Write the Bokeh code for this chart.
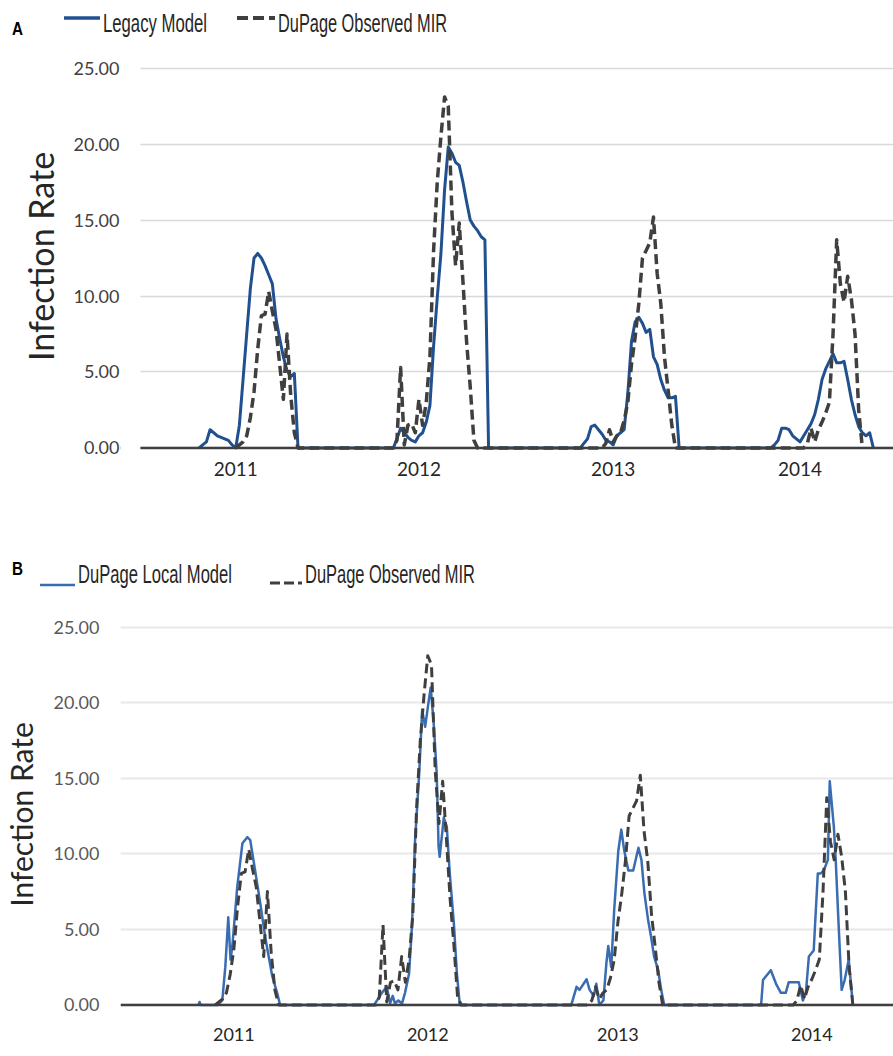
from bokeh.plotting import figure
from bokeh.layouts import column
from bokeh.models import FixedTicker, Span, PrintfTickFormatter, BoxAnnotation, Div
from bokeh.embed import file_html
from bokeh.resources import INLINE

# ---------------- data (week index, value) ----------------
# Panel A – Legacy Model
legacy_weeks_2011 = list(range(16, 44))
legacy_2011 = [0, 0.2, 0.4, 1.2, 1.0, 0.8, 0.7, 0.6, 0.5, 0.2, 0.0, 1.5, 4.5, 7.5, 10.5, 12.5,
               12.8, 12.5, 12.0, 11.4, 10.8, 8.5, 7.2, 6.0, 5.1, 4.7, 4.9, 0]
legacy_weeks_2012 = list(range(69, 96))
legacy_2012 = [0, 0.6, 1.3, 1.0, 0.7, 0.5, 0.4, 0.8, 1.0, 1.7, 2.8, 6.7, 9.9, 12.8, 17.0, 19.8,
               19.4, 18.8, 18.6, 17.5, 16.2, 15.0, 14.6, 14.3, 13.9, 13.7, 0]
legacy_weeks_2013 = list(range(120, 148))
legacy_2013 = [0, 0.3, 0.6, 1.4, 1.5, 1.2, 0.9, 0.5, 0.4, 0.2, 0.8, 1.0, 1.2, 3.6, 7.0, 8.3,
               8.6, 8.2, 7.6, 7.8, 6.0, 5.5, 4.5, 3.8, 3.3, 3.3, 3.4, 0]
legacy_weeks_2014 = list(range(172, 201))
legacy_2014 = [0, 0.2, 0.5, 1.3, 1.3, 1.2, 0.8, 0.6, 0.4, 0.8, 1.2, 1.6, 2.2, 3.2, 4.5, 5.2,
               5.7, 6.2, 5.6, 5.6, 5.7, 4.5, 3.2, 2.2, 1.4, 1.0, 0.8, 1.0, 0]

# DuPage Observed MIR (both panels)
obs_weeks_2011 = list(range(26, 44))
obs_2011 = [0, 0.2, 0.4, 0.8, 2.0, 3.7, 6.5, 8.7, 8.8, 10.3, 9.0, 7.8, 5.5, 3.2, 7.5, 3.5, 1.0, 0]
obs_weeks_2012 = list(range(69, 93))
obs_2012 = [0, 0.5, 5.3, 0.2, 1.5, 1.6, 1.0, 3.2, 1.5, 3.0, 6.0, 13.0, 17.5, 20.5, 23.1, 22.5,
            15.5, 12.0, 14.8, 11.0, 7.0, 4.0, 0.5, 0]
obs_weeks_2013 = list(range(126, 147))
obs_2013 = [0, 0.3, 1.2, 0.4, 0.8, 1.0, 1.8, 3.0, 5.5, 7.3, 9.5, 12.5, 13.0, 13.5, 15.2, 11.5,
            9.5, 6.0, 3.8, 1.5, 0]
obs_weeks_2014 = list(range(180, 198))
obs_2014 = [0, 0, 0.3, 1.3, 0.4, 1.2, 1.7, 2.3, 3.0, 7.5, 13.7, 10.8, 9.6, 11.3, 9.8, 7.5, 2.5, 0]

# Panel B – DuPage Local Model
local_weeks_2011 = [21.5, 21.8, 22.1, 26.6, 27.9, 28.7, 29.5, 30.1, 30.6, 31.9, 33.3, 34.6, 35.4,
                    36.7, 38.1, 39.4, 41.3, 42.6, 43.4]
local_2011 = [0, 0.2, 0, 0, 0.3, 2.5, 5.8, 3.0, 3.9, 7.8, 10.7, 11.1, 10.9, 8.9, 6.7, 4.5, 1.9, 0.8, 0]
local_weeks_2012 = [68.6, 70.7, 72.0, 72.9, 73.6, 74.2, 75.1, 76.1, 76.9, 78.0, 78.8, 79.6, 80.7,
                    81.5, 82.3, 83.3, 83.8, 84.6, 85.4, 85.9, 86.2, 87.3, 88.1, 88.9, 90.0, 90.8, 91.6]
local_2012 = [0, 0.8, 1.2, 0.1, 0.6, 0.1, 0.3, 0.1, 0.8, 2.1, 5.4, 10.9, 15.3, 19.5, 18.4, 20.2,
              21.0, 18.6, 15.3, 10.5, 9.8, 12.4, 11.8, 8.7, 5.4, 2.1, 0]
local_weeks_2013 = [121.5, 122.9, 123.7, 124.8, 125.6, 126.4, 127.5, 128.2, 129.0, 130.1, 130.9,
                    131.4, 132.2, 133.0, 134.1, 134.9, 135.7, 136.8, 138.1, 139.5, 140.3, 141.1,
                    142.1, 142.9, 143.7, 144.8, 145.6, 146.4]
local_2013 = [0, 1.2, 1.0, 1.4, 1.7, 1.0, 0.6, 1.4, 0, 0.3, 2.75, 3.9, 2.5, 6.3, 10.2, 11.6, 10.2,
              8.9, 8.9, 10.4, 9.6, 7.4, 5.6, 4.5, 3.2, 2.3, 1.0, 0]
local_weeks_2014 = [172.4, 172.9, 173.7, 175.0, 176.4, 177.7, 179.0, 179.8, 181.2, 182.5, 183.6,
                    184.4, 185.2, 186.5, 187.6, 188.4, 189.2, 190.3, 190.8, 191.9, 192.4, 193.2,
                    194.0, 194.8, 195.9, 197.0]
local_2014 = [0, 1.65, 1.9, 2.3, 1.4, 0.8, 0.8, 1.5, 1.5, 1.5, 0.3, 0.8, 3.2, 3.6, 8.7, 8.7, 8.9,
              9.6, 14.8, 11.8, 9.6, 5.2, 1.0, 1.65, 3.0, 0]

years = ["2011", "2012", "2013", "2014"]
year_ticks_a = [26, 76, 129, 180]
year_ticks_b = [31, 83, 134, 186]
y_ticks = [0, 5, 10, 15, 20, 25]

legend_a = ["Legacy Model", "DuPage Observed MIR"]
legend_b = ["DuPage Local Model", "DuPage Observed MIR"]

legacy_weeks = legacy_weeks_2011 + legacy_weeks_2012 + legacy_weeks_2013 + legacy_weeks_2014
legacy_vals = legacy_2011 + legacy_2012 + legacy_2013 + legacy_2014
obs_weeks = obs_weeks_2011 + obs_weeks_2012 + obs_weeks_2013 + obs_weeks_2014
obs_vals = obs_2011 + obs_2012 + obs_2013 + obs_2014
local_weeks = local_weeks_2011 + local_weeks_2012 + local_weeks_2013 + local_weeks_2014
local_vals = local_2011 + local_2012 + local_2013 + local_2014

# ---------------- styles ----------------
W = 893
LEFT = 118
BLUE_A = "#21508f"
BLUE_B = "#3a6cb2"
GRAY = "#3f3f3f"
TXT_FONT = "Lato"
Y0, Y1 = -0.3, 25.5


def chart(h, top, bottom, xr, ticks, blue, bw, dw, model_x, model_y, tick_color, tick_standoff,
          grid_color, grid_w, lab_font, lab_standoff, x_standoff, x_font):
    p = figure(width=W, height=h, x_range=xr, y_range=(Y0, Y1), toolbar_location=None,
               output_backend="svg", min_border_left=LEFT, min_border_right=0,
               min_border_top=top, min_border_bottom=bottom)
    p.outline_line_color = None
    p.xgrid.visible = False
    p.ygrid.grid_line_color = grid_color
    p.ygrid.grid_line_width = grid_w
    p.line(model_x, model_y, line_color=blue, line_width=bw, line_join="round")
    p.line(obs_weeks, obs_vals, line_color=GRAY, line_width=dw, line_dash="10 5",
           line_join="round")
    p.add_layout(Span(location=0, dimension="width", line_color=GRAY, line_width=2.5))

    ya = p.yaxis[0]
    ya.ticker = FixedTicker(ticks=y_ticks)
    ya.formatter = PrintfTickFormatter(format="%.2f")
    ya.axis_line_color = None
    ya.major_tick_line_color = None
    ya.major_tick_out = 0
    ya.minor_tick_line_color = None
    ya.minor_tick_out = 0
    ya.major_label_standoff = tick_standoff
    ya.major_label_text_font = TXT_FONT
    ya.major_label_text_font_size = "18px"
    ya.major_label_text_color = tick_color
    ya.axis_label = "Infection Rate"
    ya.axis_label_text_font = TXT_FONT
    ya.axis_label_text_font_style = "normal"
    ya.axis_label_text_font_size = lab_font
    ya.axis_label_text_color = "#262626"
    ya.axis_label_standoff = lab_standoff

    xa = p.xaxis[0]
    xa.ticker = FixedTicker(ticks=ticks)
    xa.major_label_overrides = {t: y for t, y in zip(ticks, years)}
    xa.axis_line_color = None
    xa.major_tick_line_color = None
    xa.major_tick_out = 0
    xa.minor_tick_line_color = None
    xa.minor_tick_out = 0
    xa.major_label_standoff = x_standoff
    xa.major_label_text_font = TXT_FONT
    xa.major_label_text_font_size = x_font
    xa.major_label_text_color = "#262626"
    return p


def header(h, letter, letter_base, blue, bw, line_seg, line_y, dash_seg, dash_y, dash_pat, dw,
           texts):
    # panel letter + legend row, as SVG text and line elements
    s = [f'<svg xmlns="http://www.w3.org/2000/svg" width="{W}" height="{h}" '
         f'style="display:block">']
    s.append(f'<text x="12" y="{letter_base}" font-family="Liberation Sans" font-weight="bold" '
             f'font-size="19" textLength="11" lengthAdjust="spacingAndGlyphs" fill="#000">'
             f'{letter}</text>')
    s.append(f'<line x1="{line_seg[0]}" y1="{line_y}" x2="{line_seg[1]}" y2="{line_y}" '
             f'stroke="{blue}" stroke-width="{bw}"/>')
    s.append(f'<line x1="{dash_seg[0]}" y1="{dash_y}" x2="{dash_seg[1]}" y2="{dash_y}" '
             f'stroke="{GRAY}" stroke-width="{dw}" stroke-dasharray="{dash_pat}"/>')
    for x, base, length, lab in texts:
        s.append(f'<text x="{x}" y="{base}" font-family="Lato" font-size="25" '
                 f'textLength="{length}" lengthAdjust="spacingAndGlyphs" fill="#262626">'
                 f'{lab}</text>')
    s.append('</svg>')
    return Div(text="".join(s), width=W, height=h, styles={"margin": "0", "padding": "0"})


head_a = header(50, "A", 35, BLUE_A, 3.3, (64, 100), 18, (237, 275), 18, "11 5", 4,
                [(103, 32, 104, legend_a[0]), (278, 32, 169, legend_a[1])])

# Panel A: frame abs y 60..452 ; frame left at 118, data start (week 0) at 138
chart_a = chart(490, 10, 88, (-5.44, 205.5), year_ticks_a, BLUE_A, 3, 3.5, legacy_weeks,
                legacy_vals, "#404040", 1, "#d9d9d9", 1.5, "34px", 9, 9, "19px")
chart_a.add_layout(BoxAnnotation(left=-5.44, right=0, bottom=Y0, top=Y1, fill_color="white",
                                 fill_alpha=1, line_alpha=0))

head_b = header(69, "B", 35, BLUE_B, 2.5, (40, 75), 45, (270, 302), 43, "10 4", 3,
                [(78, 43, 154, legend_b[0]), (305, 43, 170, legend_b[1])])

# Panel B: frame abs y 619..1009 ; frame left at 118
chart_b = chart(447, 10, 47, (0.6, 207.9), year_ticks_b, BLUE_B, 2.5, 3, local_weeks, local_vals,
                "#595959", 21, "#e8e8e8", 2, "30px", 11, 18, "18px")

layout = column(head_a, chart_a, head_b, chart_b, spacing=0)
open("out.html", "w").write(file_html(layout, INLINE))
